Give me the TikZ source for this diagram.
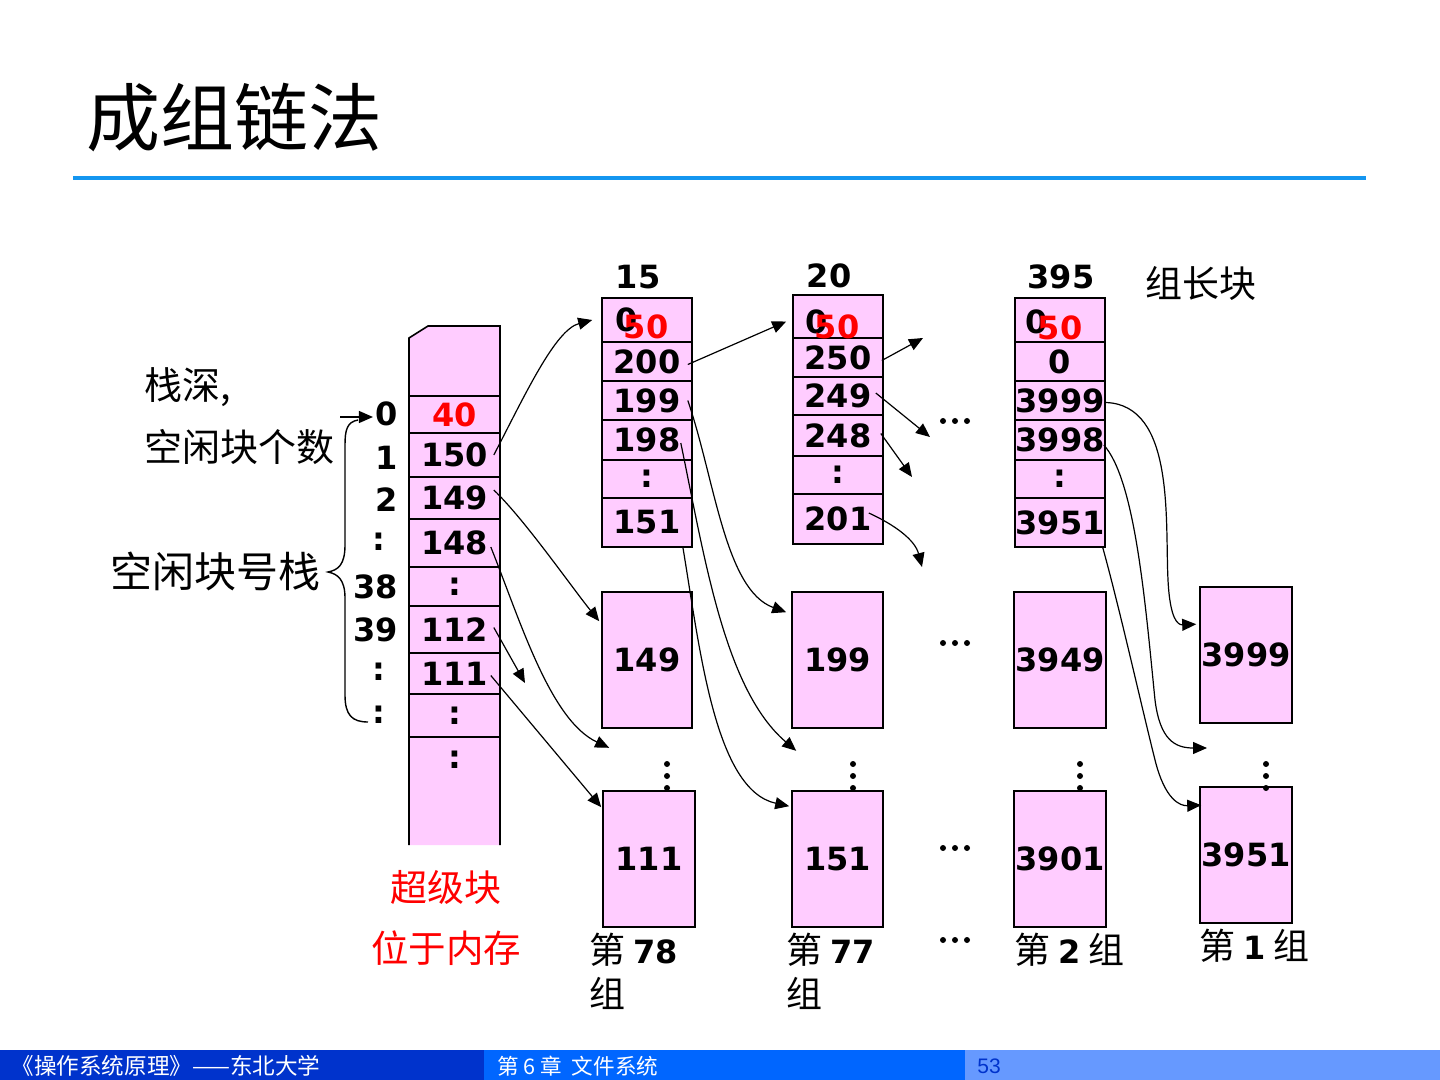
\documentclass[tikz,border=0pt]{standalone}
\usepackage{fontspec}
\setmainfont{DejaVu Sans}
\newfontfamily\dvs{DejaVu Sans}
\newfontfamily\cjk{Noto Sans CJK SC}
\newfontfamily\lsans{Liberation Sans}
\usetikzlibrary{arrows.meta,calc}
\definecolor{pinkc}{RGB}{255,204,255}
\definecolor{rulec}{RGB}{20,150,240}
\definecolor{footA}{RGB}{0,51,204}
\definecolor{footB}{RGB}{0,102,255}
\definecolor{footC}{RGB}{102,153,255}
\newcommand\numf{\dvs\bfseries\fontsize{16}{19}\selectfont}
\newcommand\cjks[1]{\cjk\fontsize{#1}{#1}\selectfont}
\begin{document}
\begin{tikzpicture}[x=0.5pt,y=-0.5pt,
  cell/.style={draw=black,line width=0.8pt,fill=pinkc,inner sep=0pt,font=\numf},
  lab/.style={inner sep=0pt},
  numlab/.style={inner sep=0pt,font=\numf},
  arr/.style={-{Triangle[length=7pt,width=6pt]},line width=0.6pt}]
\useasboundingbox (0,0) rectangle (1440,1080);
\fill[white] (0,0) rectangle (1440,1080);

% title and rule
\node[lab,anchor=west,font=\cjks{37}] (title) at (86,118) {成组链法};
\draw[rulec,line width=1.6pt] (73,178) -- (1366,178);

% footer
\fill[footA] (0,1050) rectangle (484,1080);
\fill[footB] (484,1050) rectangle (965,1080);
\fill[footC] (965,1050) rectangle (1440,1080);
\node[lab,anchor=west,text=white,font=\cjks{11.3}] (fa) at (11,1066) {《操作系统原理》——东北大学};
\node[lab,anchor=west,text=white,font=\cjks{10.8}] (fb) at (497,1066) {第 6 章\ \ 文件系统};
\node[lab,anchor=west,text=footA,font=\lsans\fontsize{10.5}{12}\selectfont] (fc) at (977,1066) {53};

% left labels
\node[lab,anchor=west,font=\cjks{19}] (l1) at (144,387) {栈深,};
\node[lab,anchor=west,font=\cjks{19}] (l2) at (144,447) {空闲块个数};
\node[lab,anchor=west,font=\cjks{21}] (l3) at (110,571) {空闲块号栈};
\node[lab,text=red,font=\cjks{18.5}] (r1) at (446,887) {超级块};
\node[lab,text=red,font=\cjks{18.75}] (r2) at (446,948) {位于内存};
\node[lab,font=\cjks{18.5}] (zz) at (1201,283) {组长块};

% superblock
\fill[pinkc] (409,338) -- (428,326) -- (500,326) -- (500,845) -- (409,845) -- cycle;
\draw[line width=0.8pt] (409,845) -- (409,338) -- (428,326) -- (500,326) -- (500,845);
\node[cell,minimum width=45.5pt,minimum height=18.5pt,text=red] (sb0) at (454.5,414.5) {40};
\node[cell,minimum width=45.5pt,minimum height=22pt] (sb1) at (454.5,455) {150};
\node[cell,minimum width=45.5pt,minimum height=21pt] (sb2) at (454.5,498) {149};
\node[cell,minimum width=45.5pt,minimum height=24pt] (sb3) at (454.5,543) {148};
\node[cell,minimum width=45.5pt,minimum height=19.5pt] (sb4) at (454.5,586.5) {:};
\node[cell,minimum width=45.5pt,minimum height=23.5pt] (sb5) at (454.5,629.5) {112};
\node[cell,minimum width=45.5pt,minimum height=20.5pt] (sb6) at (454.5,673.5) {111};
\node[cell,minimum width=45.5pt,minimum height=21.5pt] (sb7) at (454.5,715.5) {:};
\node[numlab] (sb8) at (454.5,760) {:};

% index labels
\node[numlab,anchor=east] (i0) at (398,414) {0};
\node[numlab,anchor=east] (i1) at (398,458) {1};
\node[numlab,anchor=east] (i2) at (398,500) {2};
\node[numlab] (i3) at (379,542) {:};
\node[numlab,anchor=east] (i4) at (398,587) {38};
\node[numlab,anchor=east] (i5) at (398,630) {39};
\node[numlab] (i6) at (379,672) {:};
\node[numlab] (i7) at (379,715) {:};
\coordinate (a0) at (340,417);
\draw[arr,shorten >=1pt] (a0) -- (i0.west |- a0);
% brace
\draw[line width=0.7pt] (358,420) .. controls (347,422) and (345,430) .. (345,445) -- (345,545)
  .. controls (345,565) and (338,570) .. (328,572) .. controls (338,574) and (345,580) .. (345,598)
  -- (345,695) .. controls (345,715) and (352,722) .. (368,722);

% column 1 (150)
\node[numlab] (h1) at (638,277) {15};
\node[cell,minimum width=45pt,minimum height=22pt] (c1a) at (647,320) {};
\node[cell,minimum width=45pt,minimum height=19.5pt] (c1b) at (647,361.5) {200};
\node[cell,minimum width=45pt,minimum height=19.5pt] (c1c) at (647,400.5) {199};
\node[cell,minimum width=45pt,minimum height=20pt] (c1d) at (647,440) {198};
\node[cell,minimum width=45pt,minimum height=19pt] (c1e) at (647,479) {:};
\node[cell,minimum width=45pt,minimum height=24.5pt] (c1f) at (647,522.5) {151};
\node[numlab] (c1z) at (627,320) {0};
\node[numlab,text=red] (c1n) at (646,327) {50};

% column 2 (200)
\node[numlab] (h2) at (829,276) {20};
\node[cell,minimum width=45pt,minimum height=21.5pt] (c2a) at (838,316.5) {};
\node[cell,minimum width=45pt,minimum height=19.5pt] (c2b) at (838,357.5) {250};
\node[cell,minimum width=45pt,minimum height=19pt] (c2c) at (838,396) {249};
\node[cell,minimum width=45pt,minimum height=20.5pt] (c2d) at (838,435.5) {248};
\node[cell,minimum width=45pt,minimum height=19pt] (c2e) at (838,475) {:};
\node[cell,minimum width=45pt,minimum height=25pt] (c2f) at (838,519) {201};
\node[numlab] (c2z) at (817,322) {0};
\node[numlab,text=red] (c2n) at (837,327) {50};

% column 3 (3950)
\node[numlab] (h3) at (1061,277) {395};
\node[cell,minimum width=45pt,minimum height=22pt] (c3a) at (1060,320) {};
\node[cell,minimum width=45pt,minimum height=19.5pt] (c3b) at (1060,361.5) {0};
\node[cell,minimum width=45pt,minimum height=19.5pt] (c3c) at (1060,400.5) {3999};
\node[cell,minimum width=45pt,minimum height=20pt] (c3d) at (1060,440) {3998};
\node[cell,minimum width=45pt,minimum height=19pt] (c3e) at (1060,479) {:};
\node[cell,minimum width=45pt,minimum height=24.5pt] (c3f) at (1060,522.5) {3951};
\node[numlab] (c3z) at (1037,322) {0};
\node[numlab,text=red] (c3n) at (1060,328) {50};

% middle and bottom blocks
\node[cell,minimum width=45pt,minimum height=68pt] (b149) at (647,660) {149};
\node[cell,minimum width=45.5pt,minimum height=68pt] (b199) at (837.5,660) {199};
\node[cell,minimum width=46pt,minimum height=68pt] (b3949) at (1060,660) {3949};
\node[cell,minimum width=46pt,minimum height=68pt] (b3999) at (1246,655) {3999};
\node[cell,minimum width=46pt,minimum height=68pt] (b111) at (649,859) {111};
\node[cell,minimum width=45.5pt,minimum height=68pt] (b151) at (837.5,859) {151};
\node[cell,minimum width=46pt,minimum height=68pt] (b3901) at (1060,859) {3901};
\node[cell,minimum width=46pt,minimum height=68pt] (b3951) at (1246,855) {3951};

% vertical dots
\foreach \x in {667,853,1080,1266}{
  \foreach \y in {764,776,788}{\fill (\x,\y) circle[radius=3];}}
% horizontal ellipses
\foreach \y in {421,643,848,940}{
  \foreach \x in {943,955,967}{\fill (\x,\y) circle[radius=3];}}

% group labels
\node[lab,anchor=west,font=\cjks{18}] (g78) at (589,950) {第 {\numf 78}};
\node[lab,anchor=west,font=\cjks{18}] (g78b) at (589,993) {组};
\node[lab,anchor=west,font=\cjks{18}] (g77) at (786,950) {第 {\numf 77}};
\node[lab,anchor=west,font=\cjks{18}] (g77b) at (786,993) {组};
\node[lab,anchor=west,font=\cjks{18}] (g2) at (1014,950) {第 {\numf 2} 组};
\node[lab,anchor=west,font=\cjks{18}] (g1) at (1199,946) {第 {\numf 1} 组};

% free arrow ends
\coordinate (t112) at (525,683);
\coordinate (e250) at (923,338);
\coordinate (e249) at (930,437);
\coordinate (e248) at (912,477);
\coordinate (e201) at (922,567);
\coordinate (e3998) at (1207,748);

% arrows from superblock
\draw[arr] ([xshift=-3.5pt]sb1.east) .. controls (525,395) and (555,330) .. ([xshift=-4.5pt]c1a.west);
\draw[arr] ($(sb2.east)+(-7,-8)$) .. controls (525,520) and (570,585) .. ($(b149.north west)+(-2,30)$);
\draw[arr] ($(sb3.east)+(-10,4)$) .. controls (520,620) and (550,720) .. ($(b149.south west)+(8,19)$);
\draw[arr] ($(sb5.east)+(-7,-2)$) -- (t112);
\draw[arr] ($(sb6.east)+(-10,2)$) -- ($(b111.north west)+(-1,17)$);

% arrows from column 1
\draw[arr] ($(c1b.east)+(-5,3)$) -- ($(c2a.west)+(-6,5)$);
\draw[arr] ($(c1c.east)+(-5,0)$) .. controls (715,480) and (725,590) .. ($(b199.north west)+(-5,21)$);
\draw[arr] ($(c1d.east)+(-12,3)$) .. controls (705,560) and (725,690) .. ($(b199.south west)+(5,22)$);
\draw[arr] ($(c1f.south east)+(-10,-1)$) .. controls (700,650) and (715,790) .. ($(b151.north west)+(-2,16)$);

% arrows from column 2
\draw[arr] ($(c2b.east)+(-2,3)$) -- (e250);
\draw[arr] ($(c2c.east)+(-8,-3)$) -- (e249);
\draw[arr] ($(c2d.east)+(-3,-2)$) -- (e248);
\draw[arr] ($(c2f.east)+(-15,-6)$) .. controls (895,525) and (915,540) .. (e201);

% arrows from column 3
\draw[arr] ($(c3c.east)+(0,2)$) .. controls (1175,405) and (1165,520) .. (1168,580)
  .. controls (1170,620) and (1178,625) .. ($(b3999.north west)+(-3,38)$);
\draw[arr] ($(c3d.east)+(-2,5)$) .. controls (1135,480) and (1145,600) .. (1155,700)
  .. controls (1160,740) and (1175,748) .. (e3998);
\draw[arr] ($(c3f.south east)+(-3,0)$) .. controls (1120,610) and (1140,700) .. (1155,760)
  .. controls (1165,800) and (1180,806) .. ($(b3951.north west)+(2,19)$);
\end{tikzpicture}
\end{document}
